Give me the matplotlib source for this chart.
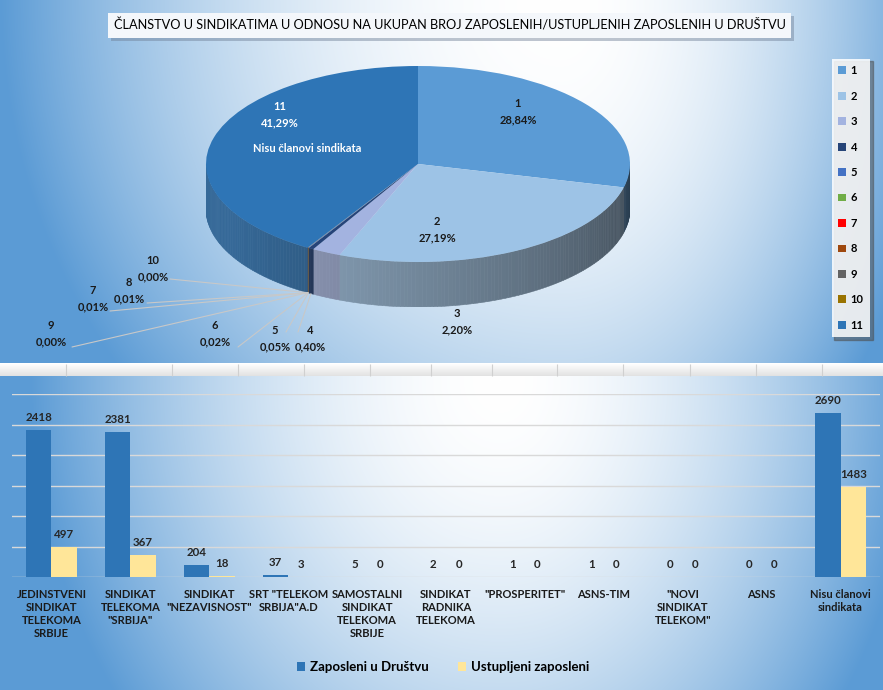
import numpy as np
import matplotlib
matplotlib.use("Agg")
import matplotlib.pyplot as plt
from matplotlib.patches import Polygon, Rectangle
from matplotlib.colors import to_rgb

plt.rcParams['font.family'] = ['Lato', 'DejaVu Sans']

W, H = 883, 690

TITLE = "ČLANSTVO U SINDIKATIMA U ODNOSU NA UKUPAN BROJ ZAPOSLENIH/USTUPLJENIH ZAPOSLENIH U DRUŠTVU"
UNIONS = ["JEDINSTVENI\nSINDIKAT\nTELEKOMA\nSRBIJE",
          "SINDIKAT\nTELEKOMA\n\"SRBIJA\"",
          "SINDIKAT\n\"NEZAVISNOST\"",
          "SRT \"TELEKOM\nSRBIJA\"A.D",
          "SAMOSTALNI\nSINDIKAT\nTELEKOMA\nSRBIJE",
          "SINDIKAT\nRADNIKA\nTELEKOMA",
          "\"PROSPERITET\"",
          "ASNS-TIM",
          "\"NOVI\nSINDIKAT\nTELEKOM\"",
          "ASNS",
          "Nisu članovi\nsindikata"]
ZAPOSLENI = [2418, 2381, 204, 37, 5, 2, 1, 1, 0, 0, 2690]
USTUPLJENI = [497, 367, 18, 3, 0, 0, 0, 0, 0, 0, 1483]
SERIES = ["Zaposleni u Društvu", "Ustupljeni zaposleni"]
BAR_COLORS = ["#2E75B6", "#FFE699"]

SLICE_NAMES = [str(i) for i in range(1, 12)]
SLICE_COLORS = ["#5B9BD5", "#9DC3E6", "#A3B3E0", "#264478", "#4472C4", "#70AD47",
                "#FF0000", "#9E480E", "#636363", "#997300", "#2E75B6"]

# label placement (pixels, figure top-left origin) - layout only
LABEL_POS = [(518, 112), (437, 230), (457, 322), (310, 339), (275, 339), (215, 334),
             (93, 299), (129, 291), (51, 334), (153, 269), (280, 115)]
LEADER_FROM = {3: (298, 332), 4: (286, 332), 5: (238, 347), 6: (110, 311),
               7: (147, 303), 8: (72, 347), 9: (170, 279)}

pie_vals = np.array(ZAPOSLENI) + np.array(USTUPLJENI)
pct = pie_vals / pie_vals.sum() * 100

fig = plt.figure(figsize=(W / 100, H / 100), dpi=100)

# ---- background ----
bg = fig.add_axes([0, 0, 1, 1], zorder=-5)
yy, xx = np.mgrid[0:H, 0:W].astype(float)


def grad(cx, cy, axl, axr, ay, p):
    rx = np.where(xx < cx, (xx - cx) / axl, (xx - cx) / axr)
    r = np.sqrt(rx ** 2 + ((yy - cy) / ay) ** 2)
    return np.clip(r, 0, 1) ** p


blue = np.array(to_rgb("#5B9BD5"))
t = np.where(yy < 363, grad(560, 0, 560, 380, 600, 2.0), grad(500, 380, 470, 420, 550, 1.8))
img = 1 - t[..., None] * (1 - blue)
strip = (yy >= 363) & (yy < 376)
s = (yy[strip] - 363) / 13.0
img[strip] = (1 - 0.12 * s)[:, None] * np.ones(3)
bg.imshow(img, extent=(0, W, H, 0), aspect='auto', interpolation='bilinear')
bg.vlines([66, 172, 238, 304, 370, 431, 492, 557, 623, 690, 756, 822], 364, 376,
          color='#D0D0D0', lw=0.8)
bg.set_xlim(0, W)
bg.set_ylim(H, 0)
bg.axis('off')

# title box
bg.add_patch(Rectangle((111, 16), 683, 25, fc='#6F7F96', ec='none', alpha=0.45))
bg.add_patch(Rectangle((108, 13), 683, 25, fc='#F4F7FB', ec='none'))
bg.text(449.5, 25.5, TITLE, ha='center', va='center', fontsize=9.2, color='black')

# ---- 3D-ish pie ----
depth = 45 / 98
pax = fig.add_axes([206 / W, 1 - 307 / H, 424 / W, 241 / H])
wedges, _ = pax.pie(pie_vals, colors=SLICE_COLORS, startangle=90, counterclock=False,
                    wedgeprops=dict(linewidth=0))
pax.set_aspect('auto')
pax.set_xlim(-1, 1)
pax.set_ylim(-1 - depth, 1)
pax.axis('off')

edges = np.concatenate([[0], np.cumsum(pct) / 100 * 360])
for k in range(len(pie_vals)):
    a0, a1 = max(edges[k], 90), min(edges[k + 1], 270)
    if a1 <= a0:
        continue
    n = max(1, int(np.ceil(a1 - a0)))
    angs = np.linspace(a0, a1, n + 1)
    base = np.array(to_rgb(SLICE_COLORS[k]))
    base = 0.8 * base + 0.2 * base.mean()
    for b0, b1 in zip(angs[:-1], angs[1:]):
        f = np.clip(0.38 + ((b0 + b1) / 2 - 90) * 0.5 / 145, 0.3, 0.9)
        c = base * f
        r0, r1 = np.radians(b0), np.radians(b1)
        pts = [(np.sin(r0), np.cos(r0)), (np.sin(r1), np.cos(r1)),
               (np.sin(r1), np.cos(r1) - depth), (np.sin(r0), np.cos(r0) - depth)]
        pax.add_patch(Polygon(pts, closed=True, fc=c, ec=c, lw=0.4, zorder=0))
for w in wedges:
    w.set_zorder(2)

# overlay for pie labels
ov = fig.add_axes([0, 0, 1, 1], zorder=10)
ov.set_xlim(0, W)
ov.set_ylim(H, 0)
ov.axis('off')

for k, (px, py) in enumerate(LABEL_POS):
    txt = "%s\n%s%%" % (SLICE_NAMES[k], ("%.2f" % pct[k]).replace(".", ","))
    col = 'white' if k == 10 else '#1A1A1A'
    ov.text(px, py, txt, ha='center', va='center', fontsize=8, fontweight='bold',
            color=col, linespacing=1.6)
ov.text(307, 149, "Nisu članovi sindikata", ha='center', va='center', fontsize=8,
        fontweight='bold', color='white')

for k, src in LEADER_FROM.items():
    mid = np.radians((edges[k] + edges[k + 1]) / 2)
    ov.annotate("", xy=(np.sin(mid), np.cos(mid) - depth), xycoords=pax.transData,
                xytext=src, textcoords=ov.transData,
                arrowprops=dict(arrowstyle='-', color='#C8C8C8', lw=0.8,
                                shrinkA=0, shrinkB=0))

fig.legend(wedges, SLICE_NAMES, loc='upper left', bbox_to_anchor=(826 / W, 1 - 53 / H),
           prop=dict(weight='bold', size=8), labelspacing=1.3, handlelength=0.7,
           handleheight=0.7, handletextpad=0.4, borderpad=0.6, fancybox=False,
           shadow=True, facecolor='white', framealpha=0.85, edgecolor='none')

# ---- bar chart ----
bax = fig.add_axes([12 / W, 1 - 577 / H, 868 / W, 183 / H])
x = np.arange(len(UNIONS))
w = 0.32
b1 = bax.bar(x - w / 2, ZAPOSLENI, w, color=BAR_COLORS[0], label=SERIES[0], zorder=3)
b2 = bax.bar(x + w / 2, USTUPLJENI, w, color=BAR_COLORS[1], label=SERIES[1], zorder=3)
for b in (b1, b2):
    bax.bar_label(b, padding=5, fontsize=8.3, fontweight='bold', color='#262626')
bax.set_ylim(0, 3000)
bax.set_yticks(range(0, 3001, 500))
bax.set_yticklabels([])
bax.set_xlim(-0.5, len(UNIONS) - 0.5)
bax.set_xticks(x)
bax.set_xticklabels(UNIONS, fontsize=8, fontweight='bold', color='#1A1A1A')
bax.tick_params(length=0, pad=9)
bax.grid(axis='y', color='#D9D9D9', lw=1)
bax.set_axisbelow(True)
for sp in bax.spines.values():
    sp.set_visible(False)
bax.patch.set_alpha(0)

fig.legend(handles=[b1, b2], loc='center', bbox_to_anchor=(443 / W, 1 - 667 / H), ncol=2,
           frameon=False, prop=dict(weight='bold', size=9.5), handlelength=0.6,
           handleheight=0.6, columnspacing=2.2, handletextpad=0.4)

fig.savefig("out.png", dpi=100)
